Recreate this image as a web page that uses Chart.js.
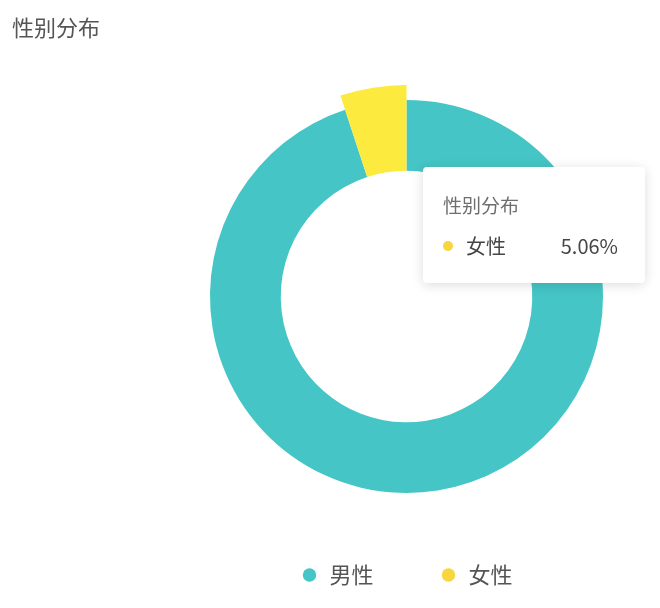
<!DOCTYPE html>
<html>
<head>
<meta charset="utf-8">
<script src="https://cdn.jsdelivr.net/npm/chart.js@4"></script>
<style>
  body { margin: 0; background: #fff; font-family: "Noto Sans CJK SC", "Noto Sans", sans-serif; }
  #wrap { position: relative; width: 660px; height: 608px; }
  #titulo { position: absolute; left: 12px; top: 10px; font-size: 22px; color: #555; }
  #dica {
    position: absolute; left: 423px; top: 167px; width: 222px; height: 116px;
    background: #fff; border-radius: 4px; box-shadow: 0 2px 12px rgba(0,0,0,0.14);
    color: #464646; font-size: 20px;
  }
  #dica .t { position: absolute; left: 20px; top: 24px; color: #6e6e6e; font-size: 19px; }
  #dica .linha { position: absolute; left: 20px; right: 27px; top: 64px; height: 28px; }
  #dica .ponto { position: absolute; left: 0; top: 10px; width: 10px; height: 10px; border-radius: 50%; }
  #dica .nome { position: absolute; left: 23px; top: 0; }
  #dica .valor { position: absolute; right: 0; top: 0; }
</style>
</head>
<body>
<div id="wrap">
  <canvas id="grafico-genero" width="660" height="608"></canvas>
  <div id="titulo"></div>
  <div id="dica"><div class="t"></div><div class="linha"><span class="ponto"></span><span class="nome"></span><span class="valor"></span></div></div>
</div>
<script>
const titulo = '性别分布';
const categorias = ['男性', '女性'];
const valores = [94.94, 5.06];
const cores = ['#45C5C6', '#FCEB3E'];
const coresLegenda = ['#45C5C6', '#F7D63E'];
const destaque = 1; // fatia em destaque (com a dica)

document.getElementById('titulo').textContent = titulo;

// fatia destacada fica maior, sem deslocar o centro
const aumentaFatia = {
    id: 'aumentaFatia',
    beforeDatasetsDraw(chart) {
        const meta = chart.getDatasetMeta(0);
        meta.data[destaque].outerRadius = meta.data[0].outerRadius + 15;
    }
};

const ctx = document.getElementById('grafico-genero').getContext('2d');
const grafico = new Chart(ctx, {
    type: 'doughnut',
    data: {
        labels: categorias,
        datasets: [{
            data: valores,
            backgroundColor: cores,
            borderWidth: 0,
            hoverOffset: 0
        }]
    },
    options: {
        responsive: false,
        animation: false,
        cutout: '64%',
        events: [],
        layout: {
            padding: { left: 210, right: 57, top: 95, bottom: 12 }
        },
        plugins: {
            tooltip: { enabled: false },
            legend: {
                display: true,
                position: 'bottom',
                labels: {
                    usePointStyle: true,
                    pointStyle: 'circle',
                    boxWidth: 18,
                    boxHeight: 9.5,
                    padding: 66,
                    color: '#555',
                    font: { size: 22, family: '"Noto Sans CJK SC", sans-serif' },
                    generateLabels(chart) {
                        return categorias.map((c, i) => ({
                            text: c,
                            fillStyle: coresLegenda[i],
                            strokeStyle: coresLegenda[i],
                            fontColor: '#555',
                            lineWidth: 0,
                            pointStyle: 'circle',
                            index: i
                        }));
                    }
                }
            }
        }
    },
    plugins: [aumentaFatia]
});

// dica da fatia destacada
const total = valores.reduce((a, b) => a + b, 0);
const dica = document.getElementById('dica');
dica.querySelector('.t').textContent = titulo;
dica.querySelector('.ponto').style.background = coresLegenda[destaque];
dica.querySelector('.nome').textContent = categorias[destaque];
dica.querySelector('.valor').textContent = (valores[destaque] / total * 100).toFixed(2) + '%';
</script>
</body>
</html>
